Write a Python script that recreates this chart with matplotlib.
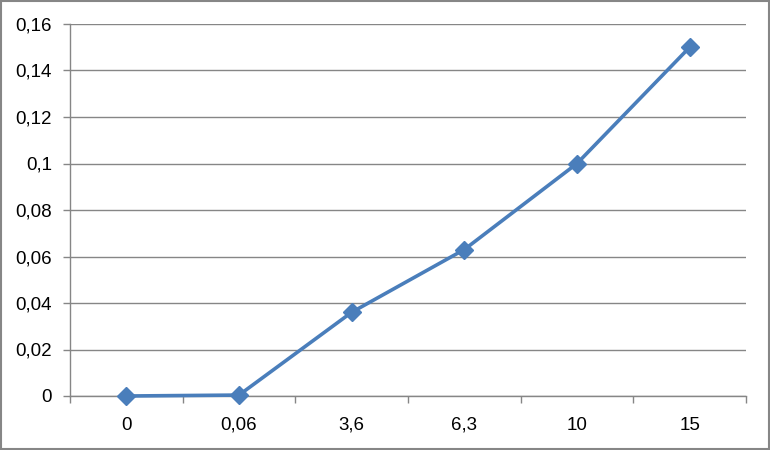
import matplotlib
matplotlib.use('Agg')
import matplotlib.pyplot as plt
import matplotlib.patches as patches
from matplotlib.ticker import FixedLocator, FuncFormatter

categories = ['0', '0,06', '3,6', '6,3', '10', '15']
values = [0.0, 0.0004, 0.036, 0.063, 0.1, 0.15]
y_ticks = [0, 0.02, 0.04, 0.06, 0.08, 0.1, 0.12, 0.14, 0.16]

LINE_COLOR = '#4A7EBB'
GRID_COLOR = '#868686'

plt.rcParams['font.family'] = ['Liberation Sans', 'DejaVu Sans']

fig = plt.figure(figsize=(7.7, 4.5), dpi=100)
ax = fig.add_axes([70 / 770, 1 - 396 / 450, 676 / 770, 372 / 450])

x = list(range(len(categories)))
ax.plot(x, values, color=LINE_COLOR, linewidth=2.6, marker='D',
        markersize=9.5, markerfacecolor=LINE_COLOR, markeredgecolor=LINE_COLOR,
        zorder=3, clip_on=False)

ax.set_xlim(-0.5, len(categories) - 0.5)
ax.set_ylim(0, 0.16)

ax.yaxis.set_major_locator(FixedLocator(y_ticks))
ax.yaxis.set_major_formatter(FuncFormatter(lambda v, p: ('%g' % round(v, 2)).replace('.', ',')))
ax.grid(axis='y', color=GRID_COLOR, linewidth=1)
ax.set_axisbelow(True)

ax.set_xticks(x)
ax.set_xticklabels(categories)
ax.set_xticks([i + 0.5 for i in range(-1, len(categories))], minor=True)
ax.tick_params(axis='x', which='major', length=0, pad=15, labelsize=13.5)
ax.tick_params(axis='x', which='minor', length=5, color=GRID_COLOR, width=1)
ax.tick_params(axis='y', length=5, color=GRID_COLOR, width=1, pad=8, labelsize=13.5)

for side in ['top', 'right']:
    ax.spines[side].set_visible(False)
for side in ['left', 'bottom']:
    ax.spines[side].set_color(GRID_COLOR)
    ax.spines[side].set_linewidth(1)

# outer chart border
fig.patches.append(patches.Rectangle((0.0015, 0.0025), 0.997, 0.995, transform=fig.transFigure,
                                     fill=False, edgecolor=GRID_COLOR, linewidth=1.5))

fig.savefig('out.png', dpi=100)
